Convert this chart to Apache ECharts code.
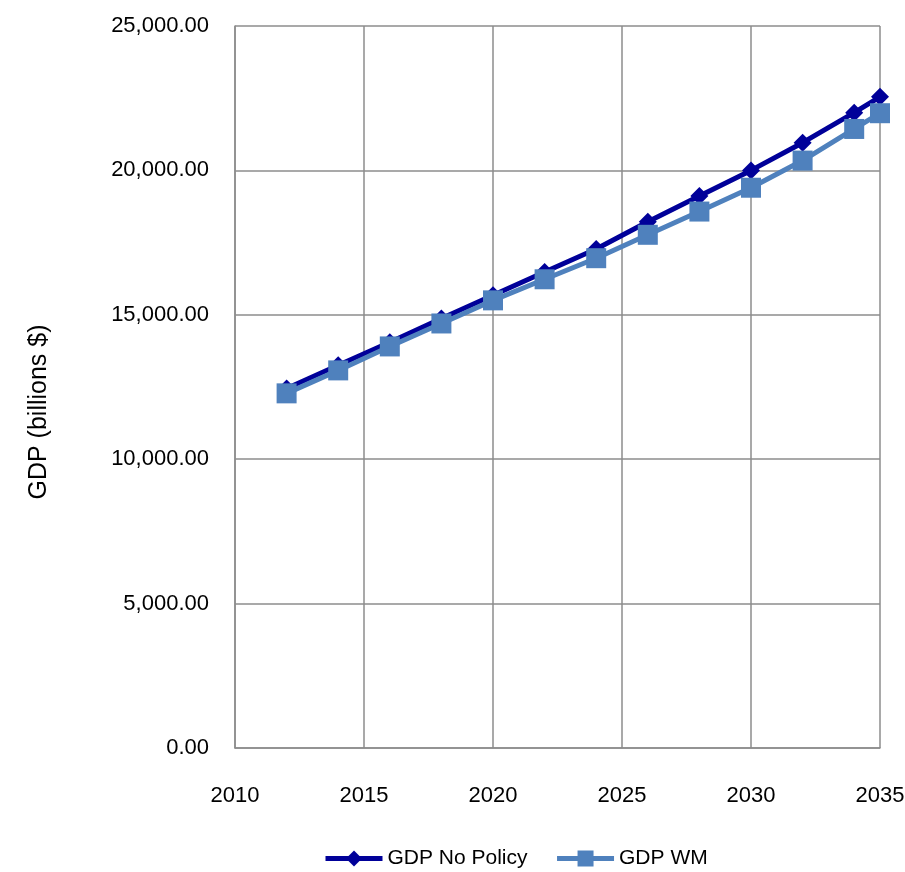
<!DOCTYPE html>
<html>
<head>
<meta charset="utf-8">
<script src="https://cdn.jsdelivr.net/npm/echarts@6/dist/echarts.min.js"></script>
<style>html,body{margin:0;padding:0;background:#fff}#chart{width:905px;height:872px}</style>
</head>
<body>
<div id="chart"></div>
<script>
// GDP projections, billions of dollars
const years = [2012, 2014, 2016, 2018, 2020, 2022, 2024, 2026, 2028, 2030, 2032, 2034, 2035];
const gdpNoPolicy = [12450, 13250, 14050, 14870, 15680, 16480, 17280, 18220, 19110, 20000, 20960, 22000, 22550];
const gdpWM = [12280, 13075, 13905, 14700, 15500, 16230, 16960, 17770, 18575, 19400, 20340, 21435, 21980];

const font = '"Liberation Sans", Arial, sans-serif';
const gridColor = '#8c8c8c';

const chart = echarts.init(document.getElementById('chart'));
chart.setOption({
  animation: false,
  grid: { left: 235, right: 25, top: 26, bottom: 124, containLabel: false, outerBoundsMode: 'none' },
  xAxis: {
    type: 'value', min: 2010, max: 2035, interval: 5,
    axisLine: { lineStyle: { color: gridColor, width: 1.5 } },
    axisTick: { show: false },
    axisLabel: { color: '#000', fontFamily: font, fontSize: 22, margin: 37, formatter: v => String(v) },
    splitLine: { lineStyle: { color: gridColor, width: 1.5 } }
  },
  yAxis: {
    type: 'value', min: 0, max: 25000, interval: 5000,
    name: 'GDP (billions $)', nameLocation: 'middle', nameGap: 183,
    nameTextStyle: { color: '#000', fontFamily: font, fontSize: 25, padding: [0, 50, 0, 0] },
    axisLine: { show: true, lineStyle: { color: gridColor, width: 1.5 } },
    axisTick: { show: false },
    axisLabel: {
      color: '#000', fontFamily: font, fontSize: 22, margin: 26,
      formatter: v => v.toLocaleString('en-US', { minimumFractionDigits: 2, maximumFractionDigits: 2 })
    },
    splitLine: { lineStyle: { color: gridColor, width: 1.5 } }
  },
  legend: {
    top: 843, left: 318, itemWidth: 57, itemHeight: 20, itemGap: 27,
    lineStyle: { width: 5 },
    textStyle: { color: '#000', fontFamily: font, fontSize: 21 },
    data: ['GDP No Policy', 'GDP WM']
  },
  series: [
    {
      name: 'GDP No Policy', type: 'line',
      data: years.map((y, i) => [y, gdpNoPolicy[i]]),
      symbol: 'diamond', symbolSize: 18,
      lineStyle: { color: '#000099', width: 5 },
      itemStyle: { color: '#000099' }
    },
    {
      name: 'GDP WM', type: 'line',
      data: years.map((y, i) => [y, gdpWM[i]]),
      symbol: 'rect', symbolSize: 20,
      lineStyle: { color: '#4F81BD', width: 5 },
      itemStyle: { color: '#4F81BD' }
    }
  ]
});
</script>
</body>
</html>
